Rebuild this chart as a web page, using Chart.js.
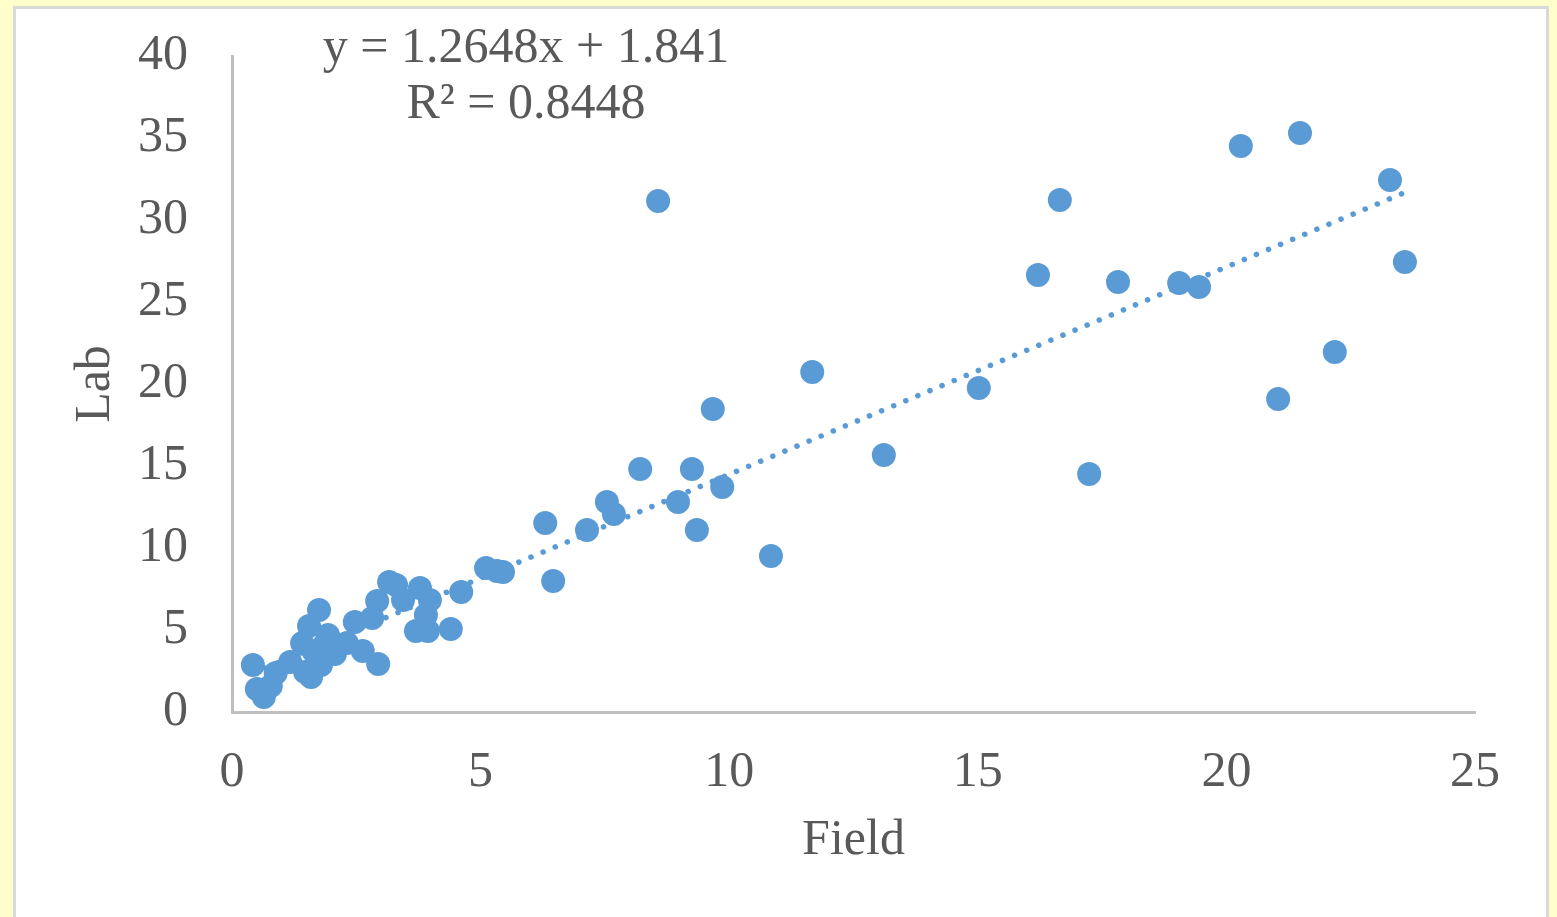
<!DOCTYPE html>
<html>
<head>
<meta charset="utf-8">
<title>Field vs Lab</title>
<script src="https://cdn.jsdelivr.net/npm/chart.js@4"></script>
<style>
    html, body { margin: 0; padding: 0; }
    body { width: 1557px; height: 917px; background: #FFFFCC; overflow: hidden; position: relative; }
    .frame { position: absolute; left: 13px; top: 6px; width: 1530px; height: 960px; background: #fff; border: 3px solid #D9D9D9; }
    canvas { position: absolute; left: 0; top: 0; }
</style>
</head>
<body>
<div class="frame"></div>
<canvas id="chart" width="1557" height="917"></canvas>
<script>
// values
const field = [0.42, 0.50, 0.64, 0.78, 0.88, 1.17, 1.41, 1.47, 1.59, 1.55,
               1.75, 1.79, 1.93, 2.07, 2.31, 2.47, 2.63, 2.82, 2.92, 2.94,
               3.16, 3.30, 3.44, 3.70, 3.78, 3.90, 3.94, 3.98, 4.40, 4.61,
               5.11, 5.33, 5.45, 6.30, 6.46, 7.14, 7.54, 7.68, 8.21, 8.57,
               8.97, 9.25, 9.35, 9.67, 9.86, 10.84, 11.67, 13.11, 15.02, 16.21,
               16.65, 17.24, 17.82, 19.05, 19.45, 20.29, 21.04, 21.48, 22.18, 23.29,
               23.59, 1.86, 1.64];
const lab = [2.87, 1.40, 0.91, 1.59, 2.38, 3.05, 4.20, 2.44, 2.13, 5.24,
             6.22, 2.87, 4.70, 3.54, 4.20, 5.49, 3.72, 5.73, 6.77, 2.93,
             7.93, 7.74, 6.83, 4.94, 7.56, 5.91, 4.94, 6.83, 5.06, 7.32,
             8.78, 8.60, 8.54, 11.52, 7.99, 11.10, 12.80, 12.07, 14.82, 31.16,
             12.80, 14.82, 11.10, 18.48, 13.72, 9.51, 20.73, 15.67, 19.76, 26.65,
             31.22, 14.51, 26.22, 26.16, 25.91, 34.51, 19.09, 35.30, 21.95, 32.44,
             27.44, 4.10, 3.70];

const slope = 1.2648;
const intercept = 1.841;
const equationLines = ['y = 1.2648x + 1.841', 'R\u00B2 = 0.8448'];

const xTicks = [0, 5, 10, 15, 20, 25];
const yTicks = [0, 5, 10, 15, 20, 25, 30, 35, 40];

const points = field.map((f, i) => ({x: f, y: lab[i]}));
const xMin = Math.min(...field);
const xMax = Math.max(...field);
const trend = [
    {x: xMin, y: slope * xMin + intercept},
    {x: xMax, y: slope * xMax + intercept}
];

const serif = '"Liberation Serif", "Times New Roman", serif';
const grey = '#595959';
const blue = '#5B9BD5';

const equationLabel = {
    id: 'equationLabel',
    afterDraw(chart) {
        const ctx = chart.ctx;
        const area = chart.chartArea;
        ctx.save();
        ctx.font = '50px ' + serif;
        ctx.fillStyle = grey;
        ctx.textAlign = 'center';
        ctx.textBaseline = 'alphabetic';
        ctx.fillText(equationLines[0], area.left + 294, 62);
        ctx.fillText(equationLines[1], area.left + 294, 118);
        ctx.restore();
    }
};

new Chart(document.getElementById('chart'), {
    type: 'scatter',
    data: {
        datasets: [{
            label: 'Lab',
            data: points,
            backgroundColor: blue,
            borderWidth: 0,
            pointRadius: 12,
            pointHoverRadius: 12,
            order: 2
        }, {
            type: 'line',
            label: 'Trend',
            data: trend,
            borderColor: blue,
            borderWidth: 5.5,
            borderDash: [0.1, 13],
            borderCapStyle: 'round',
            pointRadius: 0,
            fill: false,
            order: 1
        }]
    },
    options: {
        responsive: false,
        animation: false,
        layout: { padding: { left: 0, top: 56, right: 82, bottom: 0 } },
        plugins: {
            legend: { display: false },
            tooltip: { enabled: false }
        },
        scales: {
            x: {
                type: 'linear',
                min: 0,
                max: 25,
                afterBuildTicks: s => { s.ticks = xTicks.map(v => ({value: v})); },
                afterFit: s => { s.height = 205; },
                grid: { display: false, drawTicks: false },
                border: { display: true, color: '#BFBFBF', width: 3 },
                ticks: { color: grey, padding: 31, font: { family: serif, size: 50 } },
                title: {
                    display: true,
                    text: 'Field',
                    color: grey,
                    padding: { top: 0, bottom: 46 },
                    font: { family: serif, size: 50 }
                }
            },
            y: {
                type: 'linear',
                min: 0,
                max: 40,
                afterBuildTicks: s => { s.ticks = yTicks.map(v => ({value: v})); },
                afterFit: s => { s.width = 232; s.paddingTop = 0; s.paddingBottom = 0; },
                grid: { display: false, drawTicks: false },
                border: { display: true, color: '#BFBFBF', width: 3 },
                ticks: { color: grey, padding: 44, font: { family: serif, size: 50 } },
                title: {
                    display: true,
                    text: 'Lab',
                    color: grey,
                    padding: { top: 66, bottom: 0 },
                    font: { family: serif, size: 50 }
                }
            }
        }
    },
    plugins: [equationLabel]
});
</script>
</body>
</html>
